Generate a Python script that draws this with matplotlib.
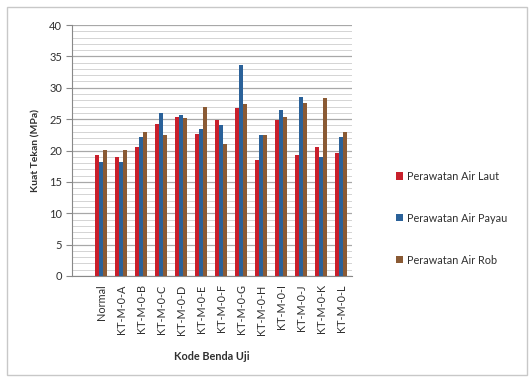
import matplotlib
matplotlib.use("Agg")
import matplotlib.pyplot as plt
import numpy as np
from matplotlib.patches import Rectangle

plt.rcParams['font.family'] = ['Lato', 'DejaVu Sans']

categories = ["Normal", "KT-M-0-A", "KT-M-0-B", "KT-M-0-C", "KT-M-0-D", "KT-M-0-E",
              "KT-M-0-F", "KT-M-0-G", "KT-M-0-H", "KT-M-0-I", "KT-M-0-J", "KT-M-0-K",
              "KT-M-0-L"]
air_laut = [19.3, 19.0, 20.6, 24.3, 25.4, 22.7, 24.9, 26.8, 18.5, 24.9, 19.3, 20.6, 19.6]
air_payau = [18.2, 18.2, 22.2, 25.9, 25.7, 23.5, 24.1, 33.6, 22.5, 26.5, 28.6, 19.0, 22.2]
air_rob = [20.1, 20.1, 23.0, 22.5, 25.1, 27.0, 21.1, 27.4, 22.5, 25.4, 27.5, 28.3, 23.0]
series_names = ["Perawatan Air Laut", "Perawatan Air Payau", "Perawatan Air Rob"]
colors = ["#C8202C", "#2A6199", "#8A5A34"]

fig = plt.figure(figsize=(5.32, 3.82), dpi=100)
fig.patches.append(Rectangle((7 / 532, 7 / 382), 520 / 532, 368 / 382,
                             transform=fig.transFigure, fill=False,
                             edgecolor="#C8C8C8", linewidth=1.0))

ax = fig.add_axes([72 / 532, 1 - 276 / 382, 280 / 532, 251 / 382])

x = np.arange(len(categories))
w = 0.21
for k, (vals, c, name) in enumerate(zip([air_laut, air_payau, air_rob], colors, series_names)):
    ax.bar(x + (k - 1) * w, vals, width=w, color=c, label=name, zorder=3)

ax.set_xlim(-1.45, 12.55)
ax.set_ylim(0, 40)
ax.set_yticks(np.arange(0, 41, 5))
ax.set_yticks(np.arange(0, 41, 1), minor=True)
ax.grid(axis="y", which="major", color="#A8A8A8", linewidth=0.9, zorder=0)
ax.grid(axis="y", which="minor", color="#D4D4D4", linewidth=0.7, zorder=0)

ax.set_xticks(x)
ax.set_xticklabels(categories, rotation=90, fontsize=7.8, color="#303030")
ax.tick_params(axis="x", length=0, pad=6)
ax.tick_params(axis="y", which="major", length=4, color="#888888", labelsize=8, labelcolor="#303030", pad=3)
ax.tick_params(axis="y", which="minor", length=0)

for s in ["top", "right"]:
    ax.spines[s].set_visible(False)
ax.spines["left"].set_color("#888888")
ax.spines["bottom"].set_color("#888888")

ax.set_ylabel("Kuat Tekan (MPa)", fontsize=7.5, fontweight="bold", color="#303030", labelpad=6)
ax.set_xlabel("Kode Benda Uji", fontsize=7.8, fontweight="bold", color="#303030", labelpad=12)

leg = fig.legend(loc="upper left", bbox_to_anchor=(386 / 532, 1 - 161 / 382),
                 frameon=False, fontsize=7.8, handlelength=0.65, handleheight=0.65,
                 handletextpad=0.4, labelspacing=2.85, labelcolor="#303030")

fig.savefig("out.png", dpi=100)
